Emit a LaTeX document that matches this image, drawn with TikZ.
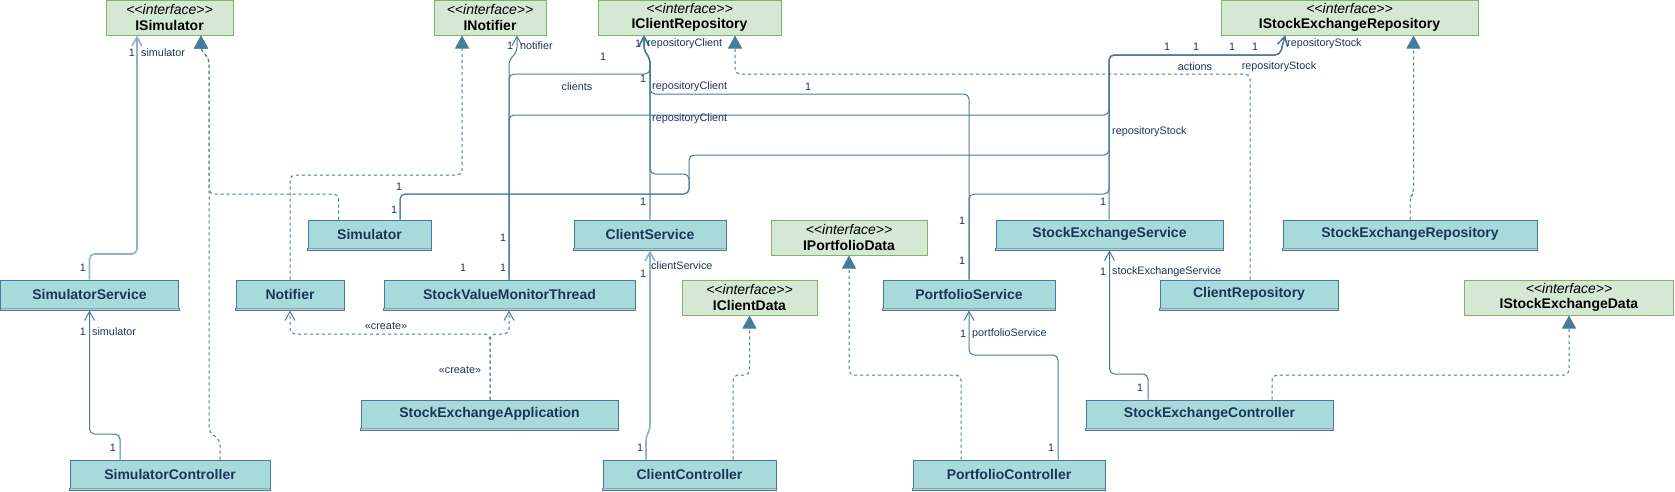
\documentclass[tikz,border=0pt]{standalone}
\usepackage{fontspec}
\setmainfont{Liberation Sans}
\usetikzlibrary{arrows.meta}
\definecolor{cfill}{HTML}{A8DADC}
\definecolor{cdraw}{HTML}{457B9D}
\definecolor{ctext}{HTML}{1D3557}
\definecolor{ifill}{HTML}{D5E8D4}
\definecolor{idraw}{HTML}{82B366}
\definecolor{edgec}{HTML}{457B9D}
\definecolor{edgel}{HTML}{8FB3CD}
\definecolor{ltext}{HTML}{1D3557}
\definecolor{sepc}{HTML}{A0A0A0}
\begin{document}
\begin{tikzpicture}[x=1pt,y=-1pt,
 cls/.style={draw=cdraw, fill=cfill, line width=1pt, minimum height=28pt, inner sep=0pt, font=\fontsize{14}{16}\selectfont\bfseries, text=ctext},
 intf/.style={draw=idraw, fill=ifill, line width=1pt, minimum height=35pt, inner sep=0pt, align=center, font=\fontsize{14}{15.5}\selectfont},
 lbl/.style={font=\fontsize{10.8}{12}\selectfont, text=ltext, inner sep=0pt},
 conn/.style={draw=edgec, line width=1pt, rounded corners=5pt},
 assoc/.style={conn, -{Straight Barb[length=9pt,width=10pt]}},
 lightassoc/.style={assoc, draw=edgel, line width=1.6pt},
 real/.style={conn, dash pattern=on 3pt off 3pt, -{Triangle[length=13pt,width=14pt]}},
 create/.style={conn, dash pattern=on 3pt off 3pt, -{Straight Barb[length=9pt,width=10pt]}},
]
\useasboundingbox (0,0) rectangle (1675,491);

% interfaces
\node[intf, minimum width=127pt] (ISim) at (169.5,17.5) {{\itshape <{}<interface>{}>}\\\textbf{ISimulator}};
\node[intf, minimum width=112pt] (INot) at (490,17.5) {{\itshape <{}<interface>{}>}\\\textbf{INotifier}};
\node[intf, minimum width=183pt] (ICR) at (689.5,17.5) {{\itshape <{}<interface>{}>}\\\textbf{IClientRepository}};
\node[intf, minimum width=257pt] (ISER) at (1349.5,17.5) {{\itshape <{}<interface>{}>}\\\textbf{IStockExchangeRepository}};
\node[intf, minimum width=156pt] (IPD) at (849,237.5) {{\itshape <{}<interface>{}>}\\\textbf{IPortfolioData}};
\node[intf, minimum width=135pt] (ICD) at (749.5,297.5) {{\itshape <{}<interface>{}>}\\\textbf{IClientData}};
\node[intf, minimum width=209pt] (ISED) at (1569,297.5) {{\itshape <{}<interface>{}>}\\\textbf{IStockExchangeData}};

% classes
\node[cls, minimum width=123pt] (Sim) at (369.5,234) {Simulator};
\node[cls, minimum width=152pt] (CS) at (650,234) {ClientService};
\node[cls, minimum width=227pt] (SES) at (1109.5,234) {StockExchangeService};
\node[cls, minimum width=254pt] (SER) at (1410,234) {StockExchangeRepository};
\node[cls, minimum width=178pt] (SimS) at (89.5,294) {SimulatorService};
\node[cls, minimum width=108pt] (Notif) at (290,294) {Notifier};
\node[cls, minimum width=251pt] (SVMT) at (509.5,294) {StockValueMonitorThread};
\node[cls, minimum width=172pt] (PS) at (969,294) {PortfolioService};
\node[cls, minimum width=178pt] (CR) at (1249,294) {ClientRepository};
\node[cls, minimum width=257pt] (SEA) at (489.5,414) {StockExchangeApplication};
\node[cls, minimum width=247pt] (SEC) at (1209.5,414) {StockExchangeController};
\node[cls, minimum width=200pt] (SimC) at (170,474) {SimulatorController};
\node[cls, minimum width=173pt] (CC) at (689.5,474) {ClientController};
\node[cls, minimum width=192pt] (PC) at (1009,474) {PortfolioController};

\foreach \n in {Sim,CS,SES,SER,SimS,Notif,SVMT,PS,CR,SEA,SEC,SimC,CC,PC}{
  \draw[draw=cdraw, fill=cfill, line width=1pt] (\n.south west) rectangle ([yshift=-2pt]\n.south east);
  \draw[draw=sepc, line width=1pt] ([xshift=0.5pt]\n.south west) -- ([xshift=-0.5pt]\n.south east);
}

% light connectors first
\draw[lightassoc] (SimS.north) -- (89.5,254) -- (137,254) -- ([xshift=-32.5pt]ISim.south);
\draw[lightassoc] (CS.north) -- (650,58) -- (644,51) -- ([xshift=-45.5pt]ICR.south);
\draw[lightassoc] ([xshift=-43.5pt]CC.north) -- (646,436) -- (650,430) -- ([yshift=-2pt]CS.south);

% realizations
\draw[real] ([xshift=50pt]SimC.north) -- (220,440) -- (209,432) -- (209,58) -- (201,51) -- ([xshift=31.5pt]ISim.south);
\draw[real] ([xshift=-31pt]Sim.north) -- (338.5,194) -- (209,194) -- (209,58) -- (201,51) -- ([xshift=31.5pt]ISim.south);
\draw[real] (Notif.north) -- (290,175) -- (462,175) -- ([xshift=-28pt]INot.south);
\draw[real] ([xshift=1pt]CR.north) -- (1250,74) -- (735,74) -- ([xshift=45.5pt]ICR.south);
\draw[real] (SER.north) -- (1410,198) -- (1413.5,193) -- ([xshift=64pt]ISER.south);
\draw[real] ([xshift=43.5pt]CC.north) -- (733,375) -- (749.5,375) -- (ICD.south);
\draw[real] ([xshift=-48pt]PC.north) -- (961,375) -- (849,375) -- (IPD.south);
\draw[real] ([xshift=62.5pt]SEC.north) -- (1272,375) -- (1569,375) -- (ISED.south);

% associations
\draw[assoc] ([xshift=-50pt]SimC.north) -- (120,434) -- (89.5,434) -- ([yshift=-2pt]SimS.south);
\draw[assoc] ([xshift=-0.5pt]SVMT.north) -- (509,60) -- (517,52) -- ([xshift=27pt]INot.south);
\draw[assoc] ([xshift=-0.5pt]SVMT.north) -- (509,74) -- (650,74) -- (650,58) -- (644,51) -- ([xshift=-45.5pt]ICR.south);
\draw[assoc] ([xshift=-0.5pt]SVMT.north) -- (509,115) -- (1109,115) -- (1109,55) -- (1280,55) -- ([xshift=-64.5pt]ISER.south);
\draw[assoc] ([xshift=30.5pt]Sim.north) -- (400,194) -- (689,194) -- (689,174) -- (650,174) -- (650,58) -- (644,51) -- ([xshift=-45.5pt]ICR.south);
\draw[assoc] ([xshift=30.5pt]Sim.north) -- (400,194) -- (689,194) -- (689,155) -- (1109,155) -- (1109,55) -- (1280,55) -- ([xshift=-64.5pt]ISER.south);
\draw[assoc] (PS.north) -- (969,94) -- (650,94) -- (650,58) -- (644,51) -- ([xshift=-45.5pt]ICR.south);
\draw[assoc] (PS.north) -- (969,194) -- (1109,194) -- (1109,55) -- (1280,55) -- ([xshift=-64.5pt]ISER.south);
\draw[assoc] ([xshift=-0.5pt]SES.north) -- (1109,55) -- (1280,55) -- ([xshift=-64.5pt]ISER.south);
\draw[assoc] ([xshift=49pt]PC.north) -- (1058,355) -- (969,355) -- ([yshift=-2pt]PS.south);
\draw[assoc] ([xshift=-61.5pt]SEC.north) -- (1148,374) -- (1109.5,374) -- ([yshift=-2pt]SES.south);

% create dependencies
\draw[create] ([xshift=0.5pt]SEA.north) -- (490,334) -- (290,334) -- ([yshift=-2pt]Notif.south);
\draw[create] ([xshift=0.5pt]SEA.north) -- (490,334) -- (509,334) -- ([yshift=-2pt,xshift=-0.5pt]SVMT.south);

% labels
\node[lbl] (m1) at (132,53) {1};
\node[lbl, anchor=west] (r1) at (141,53) {simulator};
\node[lbl] (m2) at (83,268) {1};
\node[lbl] (m3) at (83,332) {1};
\node[lbl, anchor=west] (r3) at (92,332) {simulator};
\node[lbl] (m4) at (113,448) {1};
\node[lbl] (m5) at (399,187) {1};
\node[lbl] (m6) at (394,210) {1};
\node[lbl] (m7) at (503,238) {1};
\node[lbl] (m8) at (503,268) {1};
\node[lbl] (m9) at (463,268) {1};
\node[lbl] (m10) at (510,46) {1};
\node[lbl, anchor=west] (r10) at (520,46) {notifier};
\node[lbl] (m11) at (638,44) {1};
\node[lbl, anchor=west] (r11) at (647,44) {repositoryClient};
\node[lbl] (m12) at (603,57) {1};
\node[lbl] (m13) at (643,79) {1};
\node[lbl] (r13) at (577,87) {clients};
\node[lbl, anchor=west] (r14) at (652,87) {repositoryClient};
\node[lbl] (m14) at (808,87) {1};
\node[lbl, anchor=west] (r15) at (652,119) {repositoryClient};
\node[lbl] (m16) at (643,202) {1};
\node[lbl] (m17) at (643,274) {1};
\node[lbl, anchor=west] (r17) at (651,266) {clientService};
\node[lbl] (m18) at (640,448) {1};
\node[lbl] (m19) at (962,221) {1};
\node[lbl] (m20) at (962,261) {1};
\node[lbl] (m21) at (963,334) {1};
\node[lbl, anchor=west] (r21) at (972,334) {portfolioService};
\node[lbl] (m22) at (1051,448) {1};
\node[lbl] (m23) at (1103,202) {1};
\node[lbl, anchor=west] (r23) at (1112,132) {repositoryStock};
\node[lbl] (m24a) at (1167,47) {1};
\node[lbl] (m24b) at (1196,47) {1};
\node[lbl] (m24c) at (1232,47) {1};
\node[lbl] (m24d) at (1255,47) {1};
\node[lbl] (r24) at (1195,67) {actions};
\node[lbl] (r25) at (1279,67) {repositoryStock};
\node[lbl, anchor=west] (r26) at (1287,44) {repositoryStock};
\node[lbl] (m27) at (1103,272) {1};
\node[lbl, anchor=west] (r27) at (1112,272) {stockExchangeService};
\node[lbl] (m28) at (1140,388) {1};
\node[lbl] (c1) at (386,326) {«create»};
\node[lbl] (c2) at (460,370) {«create»};
\end{tikzpicture}
\end{document}
